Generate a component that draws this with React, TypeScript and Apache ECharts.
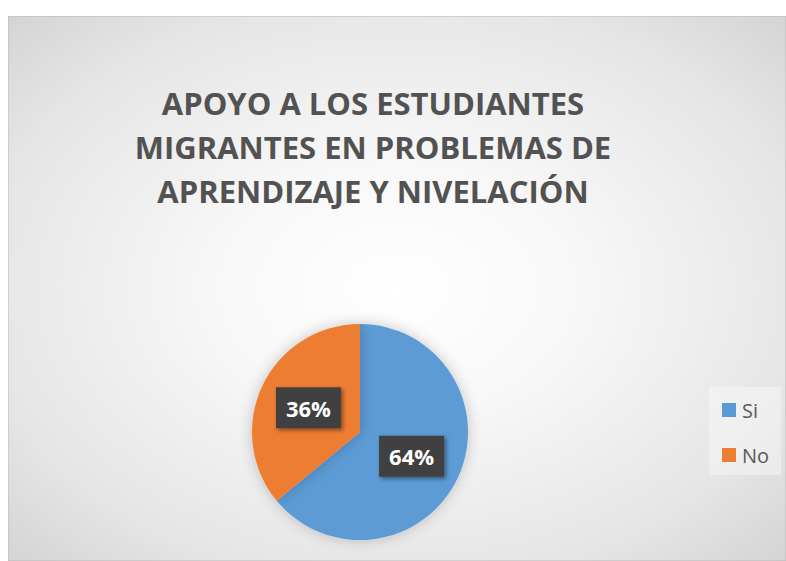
import React, { useEffect, useRef } from "react";
import * as echarts from "echarts";

const titleLines = ["APOYO A LOS ESTUDIANTES", "MIGRANTES EN PROBLEMAS DE", "APRENDIZAJE Y NIVELACIÓN"];
const categories = ["Si", "No"];
const values = [64, 36];
const colors = ["#5b9bd5", "#ed7d31"];

export default function App() {
  const ref = useRef<HTMLDivElement>(null);
  useEffect(() => {
    if (!ref.current) return;
    const chart = echarts.init(ref.current, null, { renderer: "svg" });
    const W = 778, H = 545;
    chart.setOption({
      animation: false,
      graphic: [
        {
          type: "rect",
          z: -10,
          silent: true,
          shape: { x: 0, y: 0, width: W, height: H },
          style: {
            fill: new echarts.graphic.RadialGradient(0.5, 0.5, 0.9, [
              { offset: 0, color: "#ffffff" },
              { offset: 0.25, color: "#f8f8f8" },
              { offset: 0.6, color: "#e5e5e5" },
              { offset: 1, color: "#c0c0c0" },
            ]),
            stroke: "#b8b8b8",
            lineWidth: 1,
          },
        },
        {
          type: "text",
          x: 365,
          y: 65,
          style: {
            text: titleLines.join("\n"),
            fill: "#525252",
            font: "bold 31px 'Open Sans'",
            lineHeight: 44,
            textAlign: "center",
            textVerticalAlign: "top",
          },
        },
      ],
      legend: {
        orient: "vertical",
        left: 701,
        top: 371,
        padding: [13, 12, 10, 13],
        backgroundColor: "rgba(255,255,255,0.35)",
        itemWidth: 14,
        itemHeight: 14,
        itemGap: 25,
        icon: "rect",
        data: categories,
        textStyle: { fontFamily: "Open Sans", fontSize: 20, color: "#595959", padding: [0, 0, 0, 1] },
      },
      series: [
        {
          type: "pie",
          center: [352, 416],
          radius: [0, 108],
          startAngle: 90,
          clockwise: true,
          silent: true,
          itemStyle: {
            shadowBlur: 14,
            shadowColor: "rgba(0,0,0,0.22)",
            shadowOffsetX: 0,
            shadowOffsetY: 0,
          },
          label: {
            show: true,
            position: "inside",
            formatter: (p: any) => Math.round(p.percent) + "%",
            color: "#ffffff",
            fontFamily: "Open Sans",
            fontWeight: "bold",
            fontSize: 22,
            backgroundColor: "#404040",
            padding: [10, 10, 9, 10],
            shadowBlur: 4,
            shadowColor: "rgba(0,0,0,0.45)",
            shadowOffsetX: 2,
            shadowOffsetY: 2,
          },
          labelLine: { show: false },
          data: categories.map((c, i) => ({ name: c, value: values[i], itemStyle: { color: colors[i] } })),
        },
      ],
    });
    return () => chart.dispose();
  }, []);
  return (
    <div
      ref={ref}
      style={{ position: "absolute", left: 8, top: 16, width: 778, height: 545 }}
    />
  );
}
